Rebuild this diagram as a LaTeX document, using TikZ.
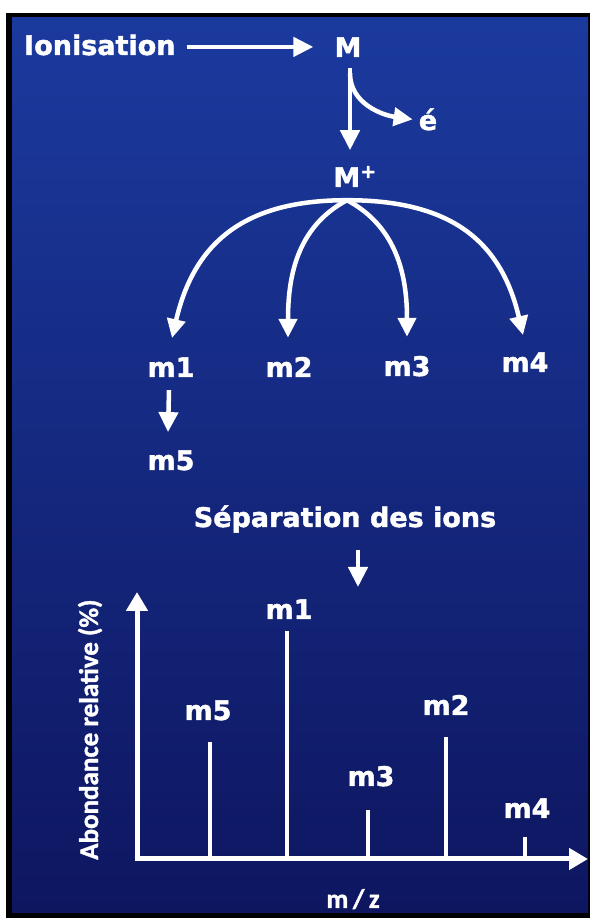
\documentclass[tikz,border=0pt]{standalone}
\usepackage{fontspec}
\setmainfont{DejaVu Sans}
\newfontfamily\heavy{DejaVu Sans}[BoldFeatures={FakeBold=1.6}]
\newfontfamily\calfont{Carlito}[BoldFeatures={FakeBold=1.4}]
\usetikzlibrary{arrows.meta}
\definecolor{bgtop}{RGB}{27,58,158}
\definecolor{bgmid}{RGB}{21,42,132}
\definecolor{bgbot}{RGB}{14,22,96}
\begin{document}
\begin{tikzpicture}[x=1pt,y=1pt,
  lbl/.style={text=white, font=\heavy\bfseries\fontsize{27}{32}\selectfont, inner sep=0pt, anchor=base},
  callbl/.style={text=white, font=\calfont\bfseries\fontsize{27}{32}\selectfont, inner sep=0pt, anchor=base},
  arr/.style={draw=white, fill=white, line width=4.5pt, -{Triangle[length=20pt,width=19pt]}},
  curvarr/.style={draw=white, line width=4.5pt, -{Triangle[length=19pt,width=18pt]}},
  axisarr/.style={draw=white, line width=5pt, -{Triangle[length=19pt,width=21pt]}},
  peak/.style={draw=white, line width=4.5pt}]
\useasboundingbox (0,0) rectangle (590,918);
% background and frame
\fill[white] (0,0) rectangle (590,918);
\fill[black] (6,0) rectangle (590,905);
\shade[top color=bgtop, middle color=bgmid, bottom color=bgbot] (12,5) rectangle (588,900);

% upper scheme
\node[lbl, anchor=base west] (ion) at (24,863) {Ionisation};
\node[lbl] (M) at (348,861) {M};
\node[lbl] (e) at (428,788) {é};
\node[lbl] (Mp) at (355,731) {M\textsuperscript{+}};
\node[lbl] (m1) at (171,541) {m1};
\node[lbl] (m2) at (289,541) {m2};
\node[lbl] (m3) at (407,542) {m3};
\node[lbl] (m4) at (525,546) {m4};
\node[lbl] (m5) at (171,448) {m5};
\node[lbl] (sep) at (345,391) {Séparation des ions};

\draw[arr] ([xshift=11pt,yshift=-2pt]ion.east) -- ([xshift=-21pt,yshift=-2pt]ion.east -| M.west);
\draw[arr] ([xshift=2pt,yshift=-11pt]M.south) -- ([xshift=2pt,yshift=-93pt]M.south);
\draw[curvarr] ([xshift=2pt,yshift=-16pt]M.south) to[out=-90,in=172] ([xshift=-6pt]e.west);

\coordinate (apex) at ([xshift=-8pt,yshift=-13pt]Mp.south);
\draw[curvarr] (apex) to[out=180,in=77,looseness=1.15] ([xshift=1pt,yshift=19pt]m1.north);
\draw[curvarr] (apex) to[out=208,in=90,looseness=1] ([xshift=-1pt,yshift=19pt]m2.north);
\draw[curvarr] (apex) to[out=-28,in=90,looseness=1] ([yshift=19pt]m3.north);
\draw[curvarr] (apex) to[out=0,in=103,looseness=1.15] ([xshift=-2pt,yshift=17pt]m4.north);
\draw[arr] ([xshift=-2pt,yshift=-13pt]m1.south) -- ([xshift=-3pt,yshift=18pt]m5.north);

\coordinate (septip) at (358,331);
\draw[arr] ([xshift=13pt,yshift=-23pt]sep.base) -- (septip);

% spectrum
\coordinate (O) at (137,59);
\draw[axisarr] (137,57) -- (137,326);
\draw[axisarr] (134.5,59) -- (588,59);
\node[callbl, rotate=90, anchor=base west] (ylab) at (98,58) {Abondance relative (\%)};
\node[callbl] (mz) at (353,10) {m\,/\,z};

\draw[peak] (210,59) -- (210,176);
\draw[peak] (287,59) -- (287,287);
\draw[peak] (368,59) -- (368,108);
\draw[peak] (446,59) -- (446,181);
\draw[peak] (525,59) -- (525,81);

\node[lbl] (p5) at (208,198) {m5};
\node[lbl] (p1) at (289,299) {m1};
\node[lbl] (p3) at (371,132) {m3};
\node[lbl] (p2) at (446,203) {m2};
\node[lbl] (p4) at (527,100) {m4};
\end{tikzpicture}
\end{document}
